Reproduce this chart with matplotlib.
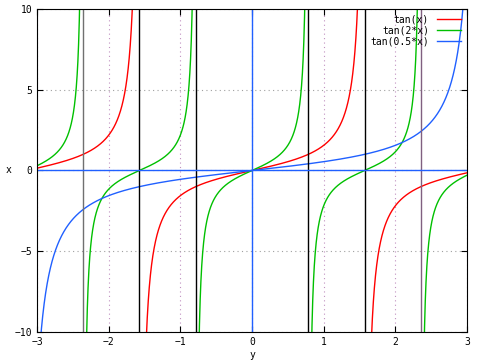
import numpy as np
import matplotlib
matplotlib.use("Agg")
import matplotlib.pyplot as plt

# series definitions, as in the legend
labels = ["tan(x)", "tan(2*x)", "tan(0.5*x)"]
factors = [1.0, 2.0, 0.5]
colors = ["#ff0000", "#00c000", "#2060ff"]

x_range = [-3, 3]
y_range = [-10, 10]
xticks = [-3, -2, -1, 0, 1, 2, 3]
yticks = [-10, -5, 0, 5, 10]
# where the curves jump (drawn as dark vertical lines)
jumps = [-2.356, -1.571, -0.785, 0.785, 1.571, 2.356]
jump_colors = ["#707070", "#000000", "#000000", "#000000", "#000000", "#806080"]

plt.rcParams["font.family"] = "DejaVu Sans Mono"
fig = plt.figure(figsize=(4.8, 3.6), dpi=100)
ax = fig.add_axes([37/480, 28/360, 430/480, 323/360])

x = np.linspace(x_range[0], x_range[1], 3000)
for lab, k, c in zip(labels, factors, colors):
    y = np.tan(k * x)
    y[np.abs(y) > 40] = np.nan
    dy = np.abs(np.diff(y))
    y[1:][dy > 20] = np.nan
    ax.plot(x, y, color=c, lw=1, label=lab)

for j, c in zip(jumps, jump_colors):
    ax.axvline(j, color=c, lw=1)
ax.axhline(0, color="#2060ff", lw=1)
ax.axvline(0, color="#2060ff", lw=1)

ax.set_xlim(x_range)
ax.set_ylim(y_range)
ax.set_xticks(xticks)
ax.set_yticks(yticks)
ax.xaxis.grid(True, color="#c090c0", ls=(0, (1, 3)), lw=0.8)
ax.yaxis.grid(True, color="#a0a0a0", ls=(0, (1, 3)), lw=0.8)
ax.tick_params(direction="in", top=True, right=True, labelsize=7, length=4)
ax.set_xlabel("y", fontsize=7, labelpad=2)
ax.set_ylabel("x", fontsize=7, rotation=0, va="center", ha="center")
ax.yaxis.set_label_coords(-28/430, 0.5)

leg = ax.legend(loc="upper right", frameon=False, fontsize=7, markerfirst=False,
                handlelength=2.5, labelspacing=0.1, borderaxespad=0.2)
for t in leg.get_texts():
    t.set_ha("right")

fig.savefig("out.png", dpi=100)
